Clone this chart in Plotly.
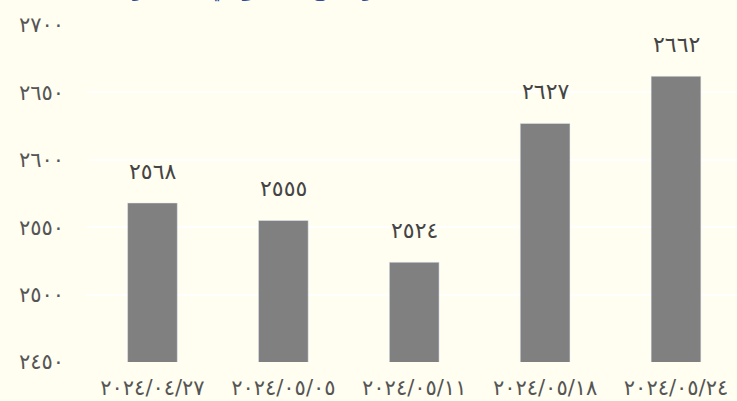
import plotly.graph_objects as go

# weekly values
dates = ["2024/04/27", "2024/05/05", "2024/05/11", "2024/05/18", "2024/05/24"]
values = [2568, 2555, 2524, 2627, 2662]
y_ticks = [2450, 2500, 2550, 2600, 2650, 2700]
title_text = "سعر البيع الأسبوعي بالدينار"

AR_DIGITS = str.maketrans("0123456789", "٠١٢٣٤٥٦٧٨٩")


def ar(s):
    return str(s).translate(AR_DIGITS)


BG = "#FFFEF1"
FONT = "DejaVu Sans"

fig = go.Figure()
fig.add_trace(go.Bar(
    x=[ar(d) for d in dates],
    y=values,
    marker_color="#808080",
    hoverinfo="skip",
))

# value labels above bars
for d, v in zip(dates, values):
    fig.add_annotation(
        x=ar(d), y=v, text=ar(v), showarrow=False,
        yanchor="bottom", yshift=17,
        font=dict(family=FONT, size=22, color="#444444"),
    )

# title sits mostly above the visible page
fig.add_annotation(
    xref="paper", yref="paper", x=0.28, y=1.0, yshift=21,
    xanchor="center", yanchor="bottom",
    text="<b>" + title_text + "</b>", showarrow=False,
    font=dict(family=FONT, size=20, color="#2E4C9C"),
)

fig.update_layout(
    width=737, height=401,
    paper_bgcolor=BG, plot_bgcolor=BG,
    margin=dict(l=87, r=0, t=25, b=39),
    bargap=0.62,
    showlegend=False,
    font=dict(family=FONT, color="#555555"),
)
fig.update_xaxes(
    range=[-0.5, 4.466], showgrid=False, zeroline=False, showline=False,
    tickfont=dict(size=21, color="#555555"), ticklabelstandoff=11,
    automargin=False,
)
fig.update_yaxes(
    range=[2450, 2700], tickvals=y_ticks, ticktext=[ar(t) for t in y_ticks],
    gridcolor="#FFFFFF", gridwidth=2, zeroline=False, showline=False,
    tickfont=dict(size=21, color="#555555"), ticklabelstandoff=22,
    automargin=False,
)

fig.write_html(
    "out.html",
    config={"displayModeBar": False},
    post_script="document.body.style.margin='0';document.body.style.background='" + BG + "';",
)
